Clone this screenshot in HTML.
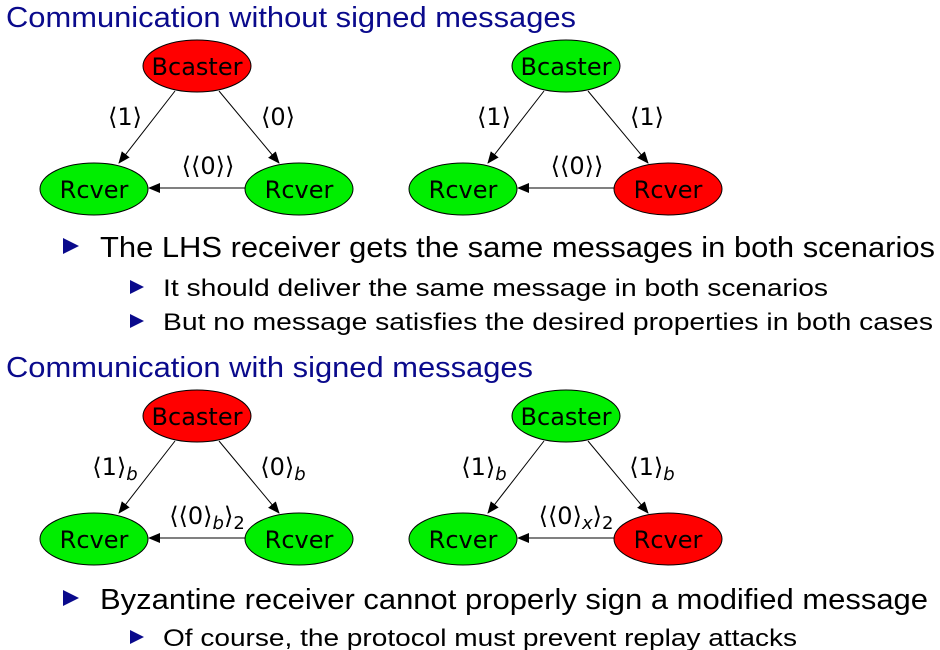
<!DOCTYPE html>
<html><head><meta charset="utf-8"><style>
html,body{margin:0;padding:0;background:#fff;}
svg{display:block;}
.t{font-family:"Liberation Sans",sans-serif;fill:#000;}
.h{font-family:"Liberation Sans",sans-serif;fill:#0a0a8c;font-size:29px;}
.n{font-family:"DejaVu Sans",sans-serif;font-size:24px;text-anchor:middle;}
.l{font-family:"DejaVu Sans",sans-serif;font-size:24px;text-anchor:middle;}
.b{fill:#0a0a8c;}
</style></head><body>
<svg width="940" height="650" viewBox="0 0 940 650" xmlns="http://www.w3.org/2000/svg">
<defs><marker id="ar" markerWidth="12" markerHeight="10" refX="11" refY="5" orient="auto" markerUnits="userSpaceOnUse"><path d="M0,0 L12,5 L0,10 Z" fill="#000"/></marker></defs>
<text class="h" x="6" y="27" textLength="570" lengthAdjust="spacingAndGlyphs">Communication without signed messages</text>
<text class="h" x="6" y="377" textLength="527" lengthAdjust="spacingAndGlyphs">Communication with signed messages</text>

<g id="diagrams"></g>

<g>
<path class="b" d="M63,238 L79,246 L63,254 Z"/>
<text class="t" x="100" y="257" font-size="29" textLength="835" lengthAdjust="spacingAndGlyphs">The LHS receiver gets the same messages in both scenarios</text>
<path class="b" d="M130,280 L144,287 L130,294 Z"/>
<text class="t" x="163" y="296" font-size="24" textLength="665" lengthAdjust="spacingAndGlyphs">It should deliver the same message in both scenarios</text>
<path class="b" d="M130,314 L144,321 L130,328 Z"/>
<text class="t" x="163" y="330" font-size="24" textLength="770" lengthAdjust="spacingAndGlyphs">But no message satisfies the desired properties in both cases</text>
<path class="b" d="M63,590 L79,598 L63,606 Z"/>
<text class="t" x="100" y="609" font-size="29" textLength="828" lengthAdjust="spacingAndGlyphs">Byzantine receiver cannot properly sign a modified message</text>
<path class="b" d="M130,630 L144,637 L130,644 Z"/>
<text class="t" x="163" y="646" font-size="24" textLength="634" lengthAdjust="spacingAndGlyphs">Of course, the protocol must prevent replay attacks</text>
</g>
</svg>
<script>
const diagramOffsetsX=[0,369,0,369];
const diagramOffsetsY=[0,0,350,350];
const bcColors=['#f00','#0e0','#f00','#0e0'];
const rrColors=['#0e0','#f00','#0e0','#f00'];
const labL=['⟨1⟩','⟨1⟩','⟨1⟩<tspan font-style="italic" font-size="18" dy="5">b</tspan>','⟨1⟩<tspan font-style="italic" font-size="18" dy="5">b</tspan>'];
const labR=['⟨0⟩','⟨1⟩','⟨0⟩<tspan font-style="italic" font-size="18" dy="5">b</tspan>','⟨1⟩<tspan font-style="italic" font-size="18" dy="5">b</tspan>'];
const labM=['⟨⟨0⟩⟩','⟨⟨0⟩⟩','⟨⟨0⟩<tspan font-style="italic" font-size="18" dy="5">b</tspan><tspan dy="-5">⟩</tspan><tspan font-size="18" dy="5">2</tspan>','⟨⟨0⟩<tspan font-style="italic" font-size="18" dy="5">x</tspan><tspan dy="-5">⟩</tspan><tspan font-size="18" dy="5">2</tspan>'];
const g=document.getElementById('diagrams');
let s='';
for(let i=0;i<4;i++){
 const dx=diagramOffsetsX[i],dy=diagramOffsetsY[i];
 s+=`<g transform="translate(${dx},${dy})">`;
 s+=`<line x1="175" y1="91" x2="119" y2="163" stroke="#000" stroke-width="1" marker-end="url(#ar)"/>`;
 s+=`<line x1="219" y1="91" x2="279" y2="163" stroke="#000" stroke-width="1" marker-end="url(#ar)"/>`;
 s+=`<line x1="245" y1="188" x2="149" y2="188" stroke="#000" stroke-width="1" marker-end="url(#ar)"/>`;
 s+=`<ellipse cx="197" cy="66" rx="54" ry="26" fill="${bcColors[i]}" stroke="#000"/>`;
 s+=`<text class="n" x="197" y="75">Bcaster</text>`;
 s+=`<ellipse cx="94" cy="189" rx="54" ry="26" fill="#0e0" stroke="#000"/>`;
 s+=`<text class="n" x="94" y="198">Rcver</text>`;
 s+=`<ellipse cx="299" cy="189" rx="54" ry="26" fill="${rrColors[i]}" stroke="#000"/>`;
 s+=`<text class="n" x="299" y="198">Rcver</text>`;
 s+=`<text class="l" x="${i<2?125:115}" y="125">${labL[i]}</text>`;
 s+=`<text class="l" x="${i<2?278:283}" y="125">${labR[i]}</text>`;
 s+=`<text class="l" x="${i<2?208:207}" y="174">${labM[i]}</text>`;
 s+=`</g>`;
}
g.innerHTML=s;
</script>
</body></html>
